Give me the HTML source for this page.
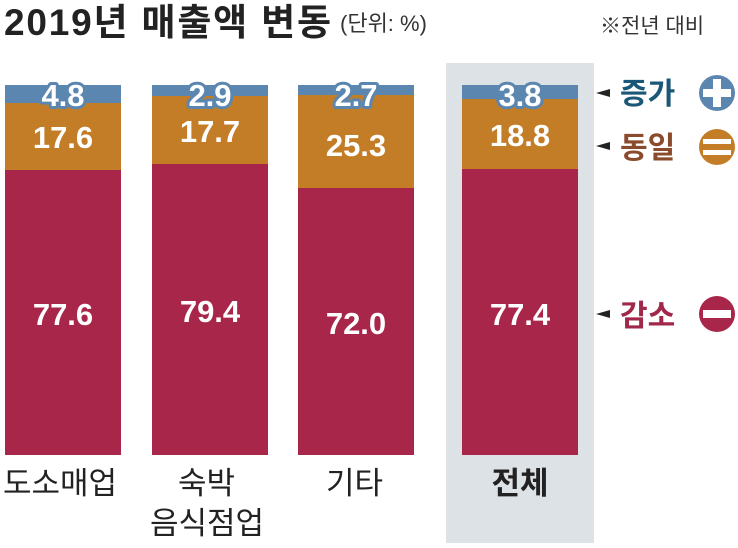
<!DOCTYPE html><html><head><meta charset="utf-8"><style>body{margin:0;background:#fff}</style></head><body>
<svg width="738" height="543" xmlns="http://www.w3.org/2000/svg" font-family="Liberation Sans, Noto Sans CJK KR, sans-serif">
<rect x="446" y="63" width="148" height="480" fill="#dde2e6"/>
<text x="4" y="35" font-size="37" font-weight="bold" fill="#222" letter-spacing="-1" textLength="326">2019년 매출액 변동</text>
<text x="340" y="31" font-size="22" fill="#333">(단위: %)</text>
<text x="600" y="33" font-size="21" fill="#333">※전년 대비</text>
<g>
<rect x="5" y="85" width="116" height="18" fill="#5b86b0"/><rect x="5" y="103" width="116" height="67" fill="#c47d27"/><rect x="5" y="170" width="116" height="285" fill="#a8264a"/>
<rect x="152" y="85" width="116" height="11" fill="#5b86b0"/><rect x="152" y="96" width="116" height="68" fill="#c47d27"/><rect x="152" y="164" width="116" height="291" fill="#a8264a"/>
<rect x="298" y="85" width="116" height="10" fill="#5b86b0"/><rect x="298" y="95" width="116" height="93" fill="#c47d27"/><rect x="298" y="188" width="116" height="267" fill="#a8264a"/>
<rect x="462" y="85" width="116" height="14" fill="#5b86b0"/><rect x="462" y="99" width="116" height="70" fill="#c47d27"/><rect x="462" y="169" width="116" height="286" fill="#a8264a"/>
</g>
<g font-size="31" font-weight="bold" fill="#fff" text-anchor="middle" stroke="#5b86b0" stroke-width="6" paint-order="stroke" stroke-linejoin="round">
<text x="63" y="106">4.8</text><text x="210" y="106">2.9</text><text x="356" y="106">2.7</text><text x="520" y="106">3.8</text>
</g>
<g font-size="31" font-weight="bold" fill="#fff" text-anchor="middle">
<text x="63" y="148">17.6</text><text x="210" y="142">17.7</text><text x="356" y="156">25.3</text><text x="520" y="146">18.8</text>
<text x="63" y="325">77.6</text><text x="210" y="322">79.4</text><text x="356" y="334">72.0</text><text x="520" y="325">77.4</text>
</g>
<g font-size="31" fill="#222">
<text x="3" y="494">도소매업</text><text x="178" y="494">숙박</text><text x="150" y="534">음식점업</text><text x="326" y="494">기타</text>
<text x="520" y="494" text-anchor="middle" font-weight="bold">전체</text>
</g>
<g>
<polygon points="596,93 610,89 610,97" fill="#222"/><polygon points="596,146 610,142 610,150" fill="#222"/><polygon points="596,314 610,310 610,318" fill="#222"/>
<text x="620" y="104" font-size="30" font-weight="bold" fill="#1b5878">증가</text>
<text x="620" y="158" font-size="30" font-weight="bold" fill="#8a4a2c">동일</text>
<text x="620" y="326" font-size="30" font-weight="bold" fill="#a0284a">감소</text>
<circle cx="717" cy="93" r="18" fill="#5b86b0"/><rect x="703" y="89" width="28" height="8" fill="#fff"/><rect x="713" y="79" width="8" height="28" fill="#fff"/>
<circle cx="717" cy="147" r="18" fill="#c47d27"/><rect x="703" y="139" width="28" height="5" fill="#fff"/><rect x="703" y="150" width="28" height="5" fill="#fff"/>
<circle cx="717" cy="314" r="18" fill="#a8264a"/><rect x="703" y="310" width="28" height="8" fill="#fff"/>
</g>
</svg></body></html>
